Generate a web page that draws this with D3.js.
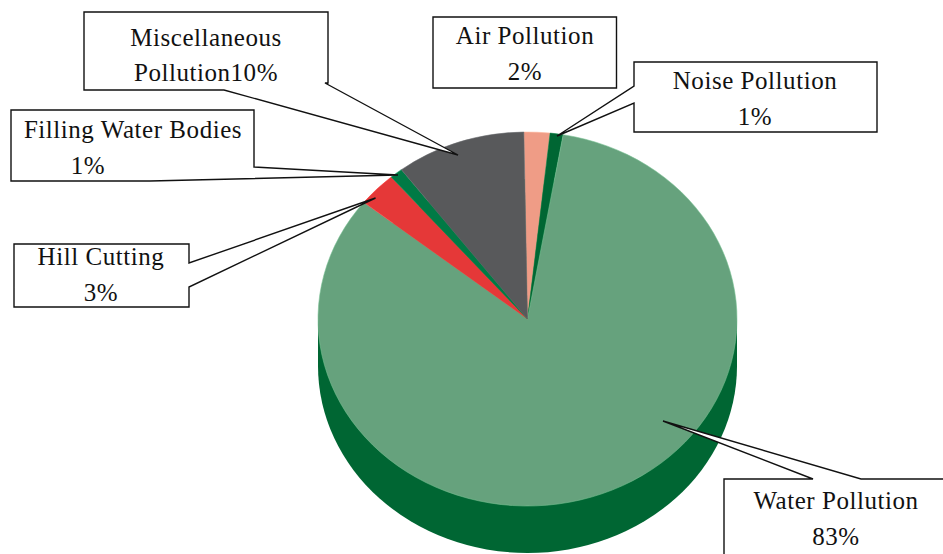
<!DOCTYPE html>
<html>
<head>
<meta charset="utf-8">
<script src="https://cdn.jsdelivr.net/npm/d3@7/dist/d3.min.js"></script>
<style>
  html, body { margin: 0; padding: 0; background: #fff; }
  svg { display: block; }
  text { font-family: "Liberation Serif", serif; font-size: 25px; fill: #111; letter-spacing: 0.55px; text-anchor: middle; }
</style>
</head>
<body>
<svg id="chart" width="943" height="554"></svg>
<script>
// Sources of environmental pollution, in percent, clockwise from the top.
const categories = ["Air Pollution", "Noise Pollution", "Water Pollution", "Hill Cutting", "Filling Water Bodies", "Miscellaneous Pollution"];
const shares = [2, 1, 83, 3, 1, 10];
const sliceColors = ["#EF9C86", "#006633", "#66A27D", "#E53838", "#007A45", "#58595B"];

// Pie geometry: a tilted disc with a visible rim below it.
const cx = 527.5, cy = 319, rx = 209.5, ry = 187, depth = 47;
const rimColor = "#006633";
const firstAngle = -1 * Math.PI / 180;

// Callout outlines: box corners plus the pointer that reaches into the slice.
const calloutOutlines = [
  [[433,17],[616.5,17],[616.5,88],[433,88]],
  [[634,62],[877,62],[877,132],[634,132],[634,103],[557,136],[634,86]],
  [[724,479],[813,479],[663,421],[861,479],[950,479],[950,560],[724,560]],
  [[14,244],[189,244],[189,263],[375.5,198],[189,287],[189,307],[14,307]],
  [[11,110],[254,110],[254,167],[398,175],[150,181],[11,181]],
  [[84,12],[328,12],[328,83],[325,83],[458,155],[224,90],[84,90]]
];
// Label lines for each callout: [x, baseline y, text].
const calloutLabels = [
  [[525,44,c => c], [525,80,(c,v) => v + "%"]],
  [[755,89,c => c], [755,125,(c,v) => v + "%"]],
  [[836,509,c => c], [836,545,(c,v) => v + "%"]],
  [[101,265,c => c], [101,301,(c,v) => v + "%"]],
  [[133,138,c => c], [88,174,(c,v) => v + "%"]],
  [[206,46,() => "Miscellaneous"], [206,81,(c,v) => "Pollution" + v + "%"]]
];

const svg = d3.select("#chart");
const tilt = `scale(1,${ry / rx})`;

// Rim: the lower disc joined to the upper one by a band.
const rim = svg.append("g").attr("fill", rimColor);
rim.append("rect").attr("x", cx - rx).attr("y", cy).attr("width", 2 * rx).attr("height", depth);
rim.append("ellipse").attr("cx", cx).attr("cy", cy + depth).attr("rx", rx).attr("ry", ry);

// Top face.
const pie = d3.pie().sort(null).startAngle(firstAngle).endAngle(firstAngle + 2 * Math.PI);
const arc = d3.arc().innerRadius(0).outerRadius(rx);
svg.append("g")
  .attr("transform", `translate(${cx},${cy}) ${tilt}`)
  .selectAll("path")
  .data(pie(shares))
  .join("path")
  .attr("d", arc)
  .attr("fill", (d, i) => sliceColors[i])
  .attr("stroke", (d, i) => d3.color(sliceColors[i]).brighter(0.5))
  .attr("stroke-width", 0.6);

// Callouts.
const line = d3.line().curve(d3.curveLinearClosed);
const callouts = svg.append("g").selectAll("g").data(categories).join("g");
callouts.append("path")
  .attr("d", (d, i) => line(calloutOutlines[i]))
  .attr("fill", "#fff")
  .attr("stroke", "#111")
  .attr("stroke-width", 1.4)
  .attr("stroke-linejoin", "miter");
callouts.each(function (c, i) {
  d3.select(this).selectAll("text").data(calloutLabels[i]).join("text")
    .attr("x", d => d[0])
    .attr("y", d => d[1])
    .text(d => d[2](c, shares[i]));
});
</script>
</body>
</html>
